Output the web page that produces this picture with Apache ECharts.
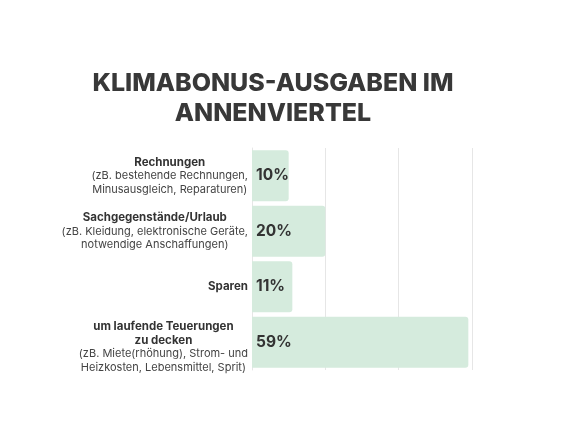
<!DOCTYPE html>
<html>
<head>
<meta charset="utf-8">
<script src="https://cdn.jsdelivr.net/npm/echarts@6/dist/echarts.min.js"></script>
<style>
html, body { margin: 0; padding: 0; background: #fff; }
#chart { width: 581px; height: 436px; }
</style>
</head>
<body>
<div id="chart"></div>
<script>
// category headings and their explanations (top to bottom)
var headings = ['Rechnungen', 'Sachgegenstände/Urlaub', 'Sparen', 'um laufende Teuerungen\nzu decken'];
var notes = [
    '(zB. bestehende Rechnungen,\nMinusausgleich, Reparaturen)',
    '(zB. Kleidung, elektronische Geräte,\nnotwendige Anschaffungen)',
    '',
    '(zB. Miete(rhöhung), Strom- und\nHeizkosten, Lebensmittel, Sprit)'
];
var shares = [10, 20, 11, 59];

function richLines(text, style) {
    return text.split('\n').map(function (l) { return '{' + style + '|' + l + '}'; }).join('\n');
}

var categories = headings.map(function (h, i) {
    var s = richLines(h, 'b');
    if (notes[i]) s += '\n' + richLines(notes[i], 'n');
    var item = { value: s };
    // the last (four-line) label sits a little lower in the original
    if (i === headings.length - 1) item.textStyle = { padding: [10, 0, 0, 0] };
    return item;
});

var myChart = echarts.init(document.getElementById('chart'));
option = {
    backgroundColor: '#ffffff',
    title: {
        text: 'KLIMABONUS-AUSGABEN IM\nANNENVIERTEL',
        left: 268,
        textAlign: 'center',
        top: 63,
        textStyle: {
            fontFamily: 'Inter',
            fontWeight: 800,
            fontSize: 25,
            lineHeight: 30,
            color: '#383838'
        }
    },
    grid: {
        left: 252,
        right: 109,
        top: 148,
        height: 222,
        containLabel: false
    },
    xAxis: {
        type: 'value',
        min: 0,
        max: 60,
        interval: 20,
        axisLabel: { show: false },
        axisTick: { show: false },
        axisLine: { show: false },
        splitLine: { lineStyle: { color: '#e6e6e6', width: 1 } }
    },
    yAxis: {
        type: 'category',
        inverse: true,
        data: categories,
        axisTick: { show: false },
        axisLine: { show: true, lineStyle: { color: '#e6e6e6' } },
        axisLabel: {
            margin: 4,
            align: 'right',
            rich: {
                b: { fontFamily: 'Inter', fontWeight: 700, fontSize: 11.5, lineHeight: 13.5, color: '#333', align: 'center' },
                n: { fontFamily: 'Inter', fontSize: 11, lineHeight: 13.5, color: '#444', align: 'center' }
            }
        }
    },
    series: [
        {
            name: 'Anteil',
            type: 'bar',
            data: shares,
            barWidth: 51,
            itemStyle: {
                color: '#d5ebdd',
                borderRadius: [0, 3, 3, 0]
            },
            label: {
                show: true,
                position: 'insideLeft',
                distance: 4,
                formatter: '{c}%',
                fontFamily: 'Inter',
                fontWeight: 700,
                fontSize: 15.5,
                color: '#333'
            }
        }
    ]
};
myChart.setOption(option);
</script>
</body>
</html>
